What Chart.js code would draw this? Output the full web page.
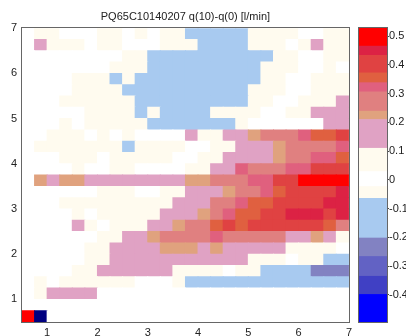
<!DOCTYPE html>
<html>
<head>
<meta charset="utf-8">
<script src="https://cdn.jsdelivr.net/npm/chart.js@4"></script>
<style>
html, body { margin: 0; padding: 0; background: #fff; }
#wrap { position: relative; width: 406px; height: 336px; overflow: hidden; }
#main { position: absolute; left: 0; top: 0; }
#cbar { position: absolute; left: 352px; top: 0; }
</style>
</head>
<body>
<div id="wrap">
<canvas id="main" width="356" height="336"></canvas>
<canvas id="cbar" width="54" height="336"></canvas>
</div>
<script>
var title = 'PQ65C10140207 q(10)-q(0) [l/min]';

// cell centres along x, cell edges along y (top to bottom)
var xCenters = [0.625, 0.875, 1.125, 1.375, 1.625, 1.875, 2.125, 2.375, 2.625, 2.875, 3.125, 3.375, 3.625,
  3.875, 4.125, 4.375, 4.625, 4.875, 5.125, 5.375, 5.625, 5.875, 6.125, 6.375, 6.625, 6.875];
var yEdges = [7, 6.75, 6.5, 6.25, 6, 5.75, 5.5, 5.25, 5, 4.75, 4.5, 4.25, 4, 3.75, 3.5, 3.25, 3,
  2.75, 2.5, 2.25, 2, 1.75, 1.5, 1.25, 1, 0.75, 0.5];
var xTicks = [1, 2, 3, 4, 5, 6, 7];
var yTicks = [1, 2, 3, 4, 5, 6, 7];

// q(10)-q(0), one row per y cell, top row first
var z = [
  [0,0.06,0.06,0,0,0,0.06,0.06,0,0.06,0,0.06,0.06,-0.13,-0.13,-0.13,-0.13,-0.13,0.06,0.06,0.06,0.06,0,0,0.06,0.06],
  [0,0.16,0.06,0.06,0.06,0,0.06,0.06,0,0,0,0.06,0.06,0.06,-0.13,-0.13,-0.13,-0.13,0.06,0.06,0.06,0,0.06,0.16,0.06,0.06],
  [0,0,0,0,0,0,0,0,0.06,0.06,-0.13,-0.13,-0.13,-0.13,-0.13,-0.13,-0.13,-0.13,-0.13,-0.13,0.06,0.06,0,0,0.06,0.06],
  [0,0,0,0,0,0,0,0.06,0.06,0.06,-0.13,-0.13,-0.13,-0.13,-0.13,-0.13,-0.13,-0.13,-0.13,0.06,0.06,0.06,0,0,0.06,0],
  [0,0,0,0,0.06,0.06,0.06,-0.13,0.06,-0.13,-0.13,-0.13,-0.13,-0.13,-0.13,-0.13,-0.13,-0.13,-0.13,0.06,0.06,0,0,0.06,0.06,0.06],
  [0,0,0,0,0.06,0.06,0.06,0.06,-0.13,-0.13,-0.13,-0.13,-0.13,-0.13,-0.13,-0.13,-0.13,-0.13,0.06,0.06,0.06,0,0,0.06,0.06,0.06],
  [0,0,0,0.06,0.06,0.06,0.06,0.06,0.06,-0.13,-0.13,-0.13,-0.13,-0.13,-0.13,-0.13,-0.13,-0.13,0.06,0.06,0,0,0.06,0.06,0.06,0.16],
  [0,0,0,0,0,0.06,0.06,0.06,0.06,-0.13,0.06,-0.13,-0.13,-0.13,-0.13,0.06,0.06,0.06,0.06,0,0,0.06,0.06,0.16,0.16,0.16],
  [0,0,0,0.06,0,0.06,0.06,0.06,0.06,0.06,-0.13,-0.13,-0.13,-0.13,-0.13,-0.13,-0.13,0.06,0,0,0,0,0,0,0.16,0.16],
  [0,0,0.06,0.06,0.06,0,0.06,0,0.06,0,0,0,0,0.16,0.06,0.06,0.16,0.16,0.22,0.27,0.27,0.27,0.32,0.35,0.35,0.4],
  [0,0.06,0.06,0.06,0.06,0.06,0.06,0.06,-0.13,0.06,0.06,0.06,0.06,0,0,0.06,0.06,0.16,0.16,0.16,0.22,0.27,0.27,0.27,0.27,0.32],
  [0,0,0,0.06,0.06,0.06,0,0.06,0.06,0.06,0.06,0.06,0,0,0.06,0.06,0.16,0.16,0.16,0.16,0.22,0.27,0.27,0.32,0.32,0.35],
  [0,0,0,0,0.06,0,0,0.06,0.06,0,0,0,0,0.06,0.06,0.16,0.16,0.32,0.27,0.27,0.27,0.32,0.32,0.4,0.4,0.4],
  [0,0.22,0.16,0.22,0.22,0.16,0.16,0.16,0.16,0.16,0.16,0.16,0.16,0.22,0.22,0.27,0.27,0.27,0.32,0.32,0.4,0.4,0.5,0.5,0.5,0.5],
  [0,0,0,0,0,0,0.06,0.06,0.06,0,0,0.06,0.06,0.16,0.16,0.16,0.22,0.27,0.27,0.32,0.35,0.4,0.4,0.4,0.4,0.45],
  [0,0,0,0.06,0.06,0.06,0.06,0.06,0.06,0.06,0.06,0.06,0.16,0.16,0.16,0.27,0.27,0.32,0.35,0.35,0.4,0.4,0.4,0.4,0.45,0.45],
  [0,0,0,0,0.06,0,0.06,0.06,0.06,0.06,0.06,0.16,0.16,0.16,0.22,0.27,0.32,0.35,0.35,0.4,0.4,0.45,0.45,0.45,0.4,0.45],
  [0,0,0,0,0.16,0.06,0,0.06,0.06,0.06,0.16,0.16,0.22,0.27,0.27,0.35,0.4,0.35,0.4,0.4,0.4,0.4,0.4,0.4,0.35,0.27],
  [0,0,0,0,0,0,0.06,0.06,0.16,0.16,0.22,0.27,0.27,0.27,0.27,0.32,0.27,0.27,0.27,0.27,0.27,0.16,0.16,0.22,0.16,0.06],
  [0,0,0,0,0,0.06,0.06,0.16,0.16,0.16,0.16,0.22,0.22,0.22,0.16,0.22,0.16,0.16,0.16,0.16,0.16,0.06,0.06,0.06,0.06,0],
  [0,0,0,0,0,0.06,0.06,0.16,0.16,0.16,0.16,0.16,0.16,0.16,0.16,0.16,0.16,0.16,0.06,0.06,0.06,0,0.06,0.06,-0.13,-0.13],
  [0,0,0,0,0.06,0.06,0.16,0.16,0.16,0.16,0.16,0.16,0.06,0.06,0.06,0.06,0,0.06,0.06,-0.13,-0.13,-0.13,-0.13,-0.24,-0.24,-0.24],
  [0,0.06,0,0.06,0.06,0.06,0.06,0.06,0.06,0,0,0,0.06,-0.13,-0.13,-0.13,-0.13,-0.13,-0.13,-0.13,-0.13,-0.13,-0.13,-0.13,-0.13,-0.13],
  [0,0.06,0.16,0.16,0.16,0.16,0,0,0,0,0,0,0,0,0,0,0,0,0,0,0,0,0,0,0,0],
  [0,0,0,0,0,0,0,0,0,0,0,0,0,0,0,0,0,0,0,0,0,0,0,0,0,0],
  [0.52,-0.55,0,0,0,0,0,0,0,0,0,0,0,0,0,0,0,0,0,0,0,0,0,0,0,0]
];

// colour bar levels and colours
var cbEdges = [-0.494, -0.398, -0.335, -0.266, -0.202, -0.064, -0.023, 0.029, 0.11, 0.21, 0.239, 0.306, 0.338, 0.372, 0.433, 0.465, 0.528];
var cbColors = ['#0000ff', '#4040c4', '#6262c4', '#8282c2', '#a8caf0', '#fffbef', '#ffffff', '#fffbef',
  '#e0a2c4', '#e0a27e', '#e08080', '#e0607e', '#e06040', '#e04242', '#dc2244', '#ff0000'];
var cbTicks = [-0.4, -0.3, -0.2, -0.1, 0, 0.1, 0.2, 0.3, 0.4, 0.5];

function colorFor(v) {
  if (v < cbEdges[0]) return '#000080';
  for (var i = 0; i < cbColors.length; i++) {
    if (v < cbEdges[i + 1]) return cbColors[i];
  }
  return cbColors[cbColors.length - 1];
}

var cells = [];
for (var r = 0; r < z.length; r++) {
  for (var c = 0; c < xCenters.length; c++) {
    cells.push({ x: xCenters[c], y: [yEdges[r + 1], yEdges[r]], v: z[r][c] });
  }
}

var font = { family: "'Liberation Sans', Arial, sans-serif", size: 11 };
var txt = '#222';

var frame = {
  id: 'frame',
  afterDatasetsDraw: function (chart) {
    var a = chart.chartArea, g = chart.ctx;
    g.save();
    g.strokeStyle = '#666';
    g.lineWidth = 1;
    g.strokeRect(Math.round(a.left) - 0.5, Math.round(a.top) - 0.5, Math.round(a.right - a.left) + 1, Math.round(a.bottom - a.top) + 1);
    g.restore();
  }
};

new Chart(document.getElementById('main'), {
  type: 'bar',
  data: {
    datasets: [{
      data: cells,
      backgroundColor: function (ctx) { return ctx.raw ? colorFor(ctx.raw.v) : '#fff'; },
      borderWidth: 0,
      barPercentage: 1,
      categoryPercentage: 1,
      inflateAmount: 0.5
    }]
  },
  options: {
    responsive: false,
    animation: false,
    events: [],
    layout: { padding: { left: 0, right: 5, top: 0, bottom: 0 } },
    plugins: {
      legend: { display: false },
      tooltip: { enabled: false },
      title: { display: true, text: title, fullSize: false, color: txt, font: { family: font.family, size: 11, weight: 'normal' }, padding: { top: 10, bottom: 5 } }
    },
    scales: {
      x: {
        type: 'linear', min: 0.5, max: 7, offset: false,
        afterBuildTicks: function (s) { s.ticks = xTicks.map(function (v) { return { value: v }; }); },
        afterFit: function (s) { s.height = 14; },
        grid: { display: false, drawTicks: false },
        border: { display: false },
        ticks: { font: font, color: txt, padding: 4, maxRotation: 0 }
      },
      y: {
        type: 'linear', min: 0.5, max: 7,
        afterBuildTicks: function (s) { s.ticks = yTicks.map(function (v) { return { value: v }; }); },
        afterFit: function (s) { s.width = 22; },
        grid: { display: false, drawTicks: false },
        border: { display: false },
        ticks: { font: font, color: txt, padding: 5 }
      }
    }
  },
  plugins: [frame]
});

var bands = [];
for (var i = 0; i < cbColors.length; i++) {
  bands.push({
    data: [[cbEdges[i], cbEdges[i + 1]]],
    backgroundColor: cbColors[i],
    borderWidth: 0,
    grouped: false,
    barPercentage: 1,
    categoryPercentage: 1
  });
}

new Chart(document.getElementById('cbar'), {
  type: 'bar',
  data: { labels: [''], datasets: bands },
  options: {
    responsive: false,
    animation: false,
    events: [],
    layout: { padding: { left: 7, right: 0, top: 28, bottom: 14 } },
    plugins: { legend: { display: false }, tooltip: { enabled: false } },
    scales: {
      x: { display: false },
      y: {
        position: 'right', min: cbEdges[0], max: cbEdges[cbEdges.length - 1],
        afterBuildTicks: function (s) { s.ticks = cbTicks.map(function (v) { return { value: v }; }); },
        afterFit: function (s) { s.width = 19; },
        grid: { drawOnChartArea: false, drawTicks: true, tickLength: 2, color: '#444' },
        border: { display: false },
        ticks: { font: font, color: txt, padding: 0, callback: function (v) { return String(v); } }
      }
    }
  },
  plugins: [frame]
});
</script>
</body>
</html>
